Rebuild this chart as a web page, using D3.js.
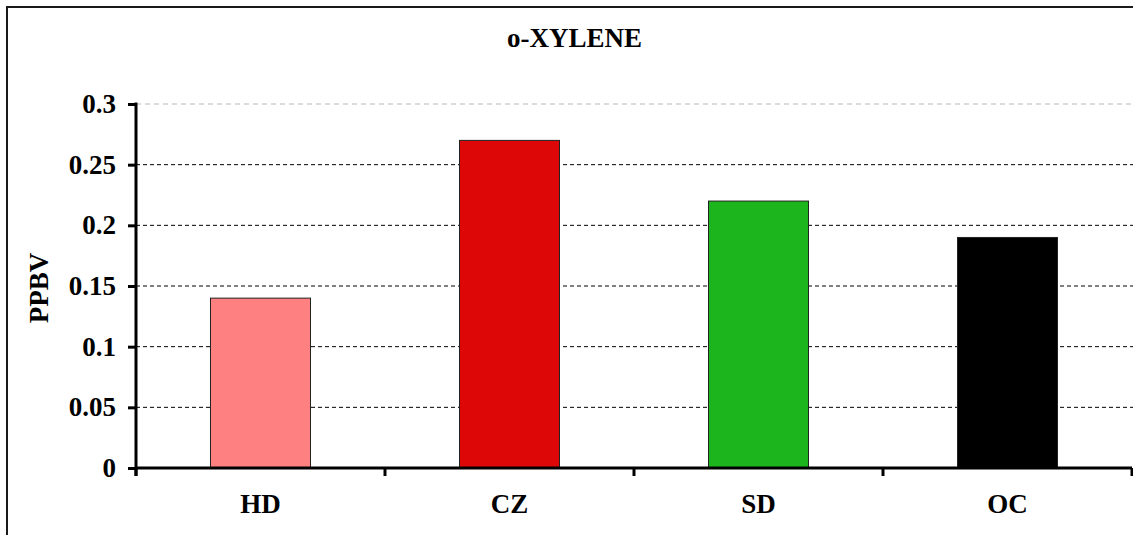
<!DOCTYPE html>
<html><head><meta charset="utf-8">
<script src="https://cdn.jsdelivr.net/npm/d3@7"></script>
<style>html,body{margin:0;padding:0;background:#fff;overflow:hidden}</style>
</head><body>
<script>
const categories = ["HD", "CZ", "SD", "OC"];
const values = [0.14, 0.27, 0.22, 0.19];
const colors = ["#FF8080", "#DE0707", "#1DB51D", "#000000"];
const yTicks = [0, 0.05, 0.1, 0.15, 0.2, 0.25, 0.3];
const yTickLabels = ["0", "0.05", "0.1", "0.15", "0.2", "0.25", "0.3"];
const title = "o-XYLENE";
const yLabel = "PPBV";

const W = 1133, H = 535;
const font = "'Liberation Serif','Times New Roman',serif";
const svg = d3.select("body").append("svg").attr("width", W).attr("height", H);

svg.append("rect").attr("x", 7).attr("y", 7).attr("width", 1140).attr("height", 540)
  .attr("fill", "#fff").attr("stroke", "#1a1a1a").attr("stroke-width", 2);

const x0 = 136, x1 = 1132, yTop = 104, yBot = 468;
const x = d3.scaleBand().domain(categories).range([x0, x1]).paddingInner(0).paddingOuter(0);
const y = d3.scaleLinear().domain([0, 0.3]).range([yBot, yTop]);

// gridlines
svg.append("g").selectAll("line").data(yTicks.filter(d => d > 0)).join("line")
  .attr("x1", x0).attr("x2", W + 5)
  .attr("y1", d => y(d)).attr("y2", d => y(d))
  .attr("stroke", d => d === 0.3 ? "#b8b8b8" : "#000")
  .attr("stroke-width", 1)
  .attr("stroke-dasharray", d => d === 0.3 ? "5,4" : "4,3");

// bars
const bw = 100;
svg.append("g").selectAll("rect").data(categories).join("rect")
  .attr("x", d => x(d) + x.bandwidth() / 2 - bw / 2)
  .attr("width", bw)
  .attr("y", (d, i) => y(values[i]))
  .attr("height", (d, i) => yBot - y(values[i]))
  .attr("fill", (d, i) => colors[i])
  .attr("stroke", "#222").attr("stroke-width", 1);

// y axis
const yAxis = d3.axisLeft(y).tickValues(yTicks).tickFormat((d, i) => yTickLabels[i]).tickSize(8).tickPadding(12);
const gy = svg.append("g").attr("transform", `translate(${x0},0)`).call(yAxis);
gy.select(".domain").remove();
gy.append("line").attr("x1", 0).attr("x2", 0).attr("y1", yTop - 1.5).attr("y2", yBot + 8)
  .attr("stroke", "#000").attr("stroke-width", 3);
gy.selectAll(".tick line").attr("stroke", "#000").attr("stroke-width", 3);
gy.selectAll(".tick text").attr("font-family", font).attr("font-weight", "bold")
  .attr("font-size", "27px").attr("fill", "#000");

// x axis
const xTickPos = categories.map(c => x(c)).concat([x1]);
const gx = svg.append("g");
gx.append("line").attr("x1", x0).attr("x2", x1).attr("y1", yBot).attr("y2", yBot)
  .attr("stroke", "#000").attr("stroke-width", 3);
gx.selectAll("line.t").data(xTickPos).join("line").attr("class", "t")
  .attr("x1", d => d).attr("x2", d => d).attr("y1", yBot).attr("y2", yBot + 8)
  .attr("stroke", "#000").attr("stroke-width", 3);
gx.selectAll("text").data(categories).join("text")
  .attr("x", d => x(d) + x.bandwidth() / 2).attr("y", 513)
  .attr("text-anchor", "middle").attr("font-family", font).attr("font-weight", "bold")
  .attr("font-size", "27px").attr("fill", "#000").text(d => d);

// title
svg.append("text").attr("x", 574.5).attr("y", 47).attr("text-anchor", "middle")
  .attr("font-family", font).attr("font-weight", "bold").attr("font-size", "27px").text(title);

// y label
svg.append("text").attr("transform", "translate(48,288) rotate(-90)").attr("text-anchor", "middle")
  .attr("font-family", font).attr("font-weight", "bold").attr("font-size", "27px").text(yLabel);
</script>
</body></html>
